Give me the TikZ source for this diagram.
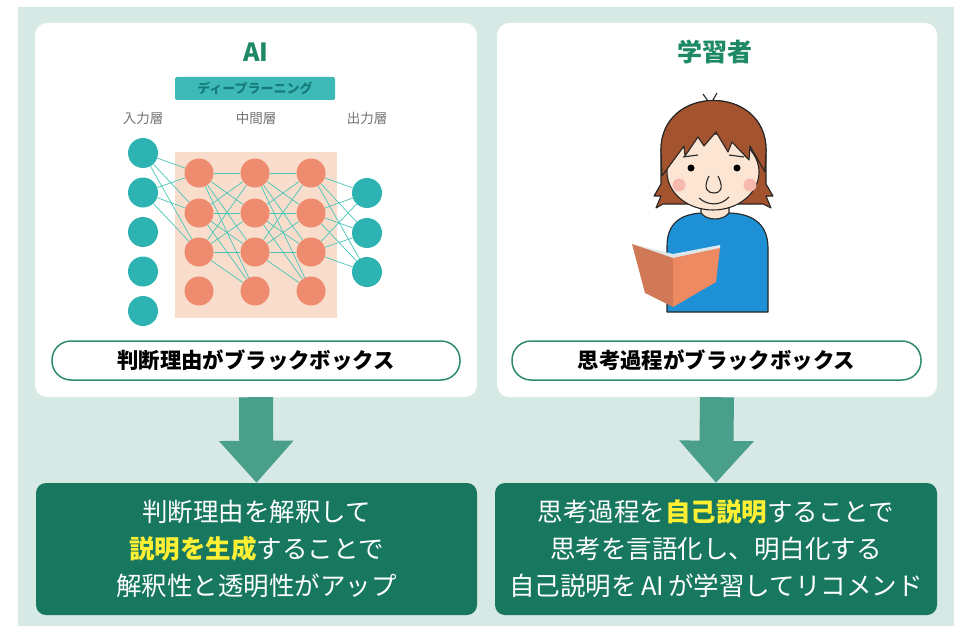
\documentclass[tikz,border=0pt]{standalone}
\usepackage{fontspec}
\setmainfont{Noto Sans CJK JP}
\usetikzlibrary{arrows.meta}

\definecolor{bgteal}{HTML}{D6E9E4}
\definecolor{deepgreen}{HTML}{17785F}
\definecolor{titlegreen}{HTML}{1E8A63}
\definecolor{arrowgreen}{HTML}{4A9F8A}
\definecolor{pillline}{HTML}{2F8C67}
\definecolor{nodeteal}{HTML}{2DB3B2}
\definecolor{nodesalmon}{HTML}{EF8B6F}
\definecolor{layerpink}{HTML}{F8DDCD}
\definecolor{bannerteal}{HTML}{3DBAB7}
\definecolor{bannertext}{HTML}{167C7A}
\definecolor{wireteal}{HTML}{46C6B7}
\definecolor{hilite}{HTML}{FFF034}
\definecolor{hairbrown}{HTML}{A4532F}
\definecolor{skin}{HTML}{FCE5D3}
\definecolor{shirtblue}{HTML}{1E90D5}
\definecolor{bookorange}{HTML}{EE8A62}
\definecolor{cheekpink}{HTML}{F7B9AE}
\definecolor{pagegray}{HTML}{DDE6E8}

\begin{document}
\begin{tikzpicture}[x=1pt, y=-1pt,
      panel/.style={fill=white, rounded corners=12pt, minimum height=374pt, inner sep=0pt},
      pill/.style={draw=pillline, line width=1.5pt, fill=white, rounded corners=19pt,
        minimum height=39pt, font=\fontsize{21.4}{21.4}\selectfont\bfseries},
      result/.style={fill=deepgreen, rounded corners=10pt, minimum height=132pt,
        text=white, align=center, font=\fontsize{25.5}{37}\selectfont},
      downarrow/.style={arrowgreen, line width=34pt, -{Triangle[width=72pt, length=42pt]}},
      heading/.style={text=titlegreen, font=\fontsize{25}{25}\selectfont\bfseries},
      layertag/.style={text=black!55, font=\fontsize{13.5}{13.5}\selectfont},
      banner/.style={fill=bannerteal, rounded corners=2pt, minimum width=160pt, minimum height=23pt,
        text=bannertext, font=\fontsize{13}{13}\selectfont\bfseries},
      innode/.style={circle, fill=nodeteal, minimum size=30pt, inner sep=0pt},
      hidnode/.style={circle, fill=nodesalmon, minimum size=29pt, inner sep=0pt},
      wire/.style={wireteal, line width=0.7pt},
      outline/.style={draw=black!85, line width=1.1pt, line join=round}
    ]

% Background
      \useasboundingbox (0,0) rectangle (959,626);
      \fill[bgteal] (18,7) rectangle (954,626);

% Panels
      \node[panel, minimum width=442pt] (lpanel) at (256,210) {};
      \node[panel, minimum width=440pt] (rpanel) at (717,210) {};
      \node[heading] (aititle) at (256,52) {AI};
      \node[heading] (lrntitle) at (715,52) {学習者};

% Deep learning network
      \node[banner] (dl) at (255,88.5) {ディープラーニング};
      \node[layertag] (inlbl) at (143,118) {入力層};
      \node[layertag] (midlbl) at (256,118) {中間層};
      \node[layertag] (outlbl) at (367,118) {出力層};
      \fill[layerpink] (175,152) rectangle (337,318);
      \foreach \i/\y in {1/153,2/192.5,3/232,4/271.5,5/311}
        \node[innode] (in\i) at (143,\y) {};
      \foreach \c/\x in {1/199,2/255,3/311}
        \foreach \r/\y in {1/173,2/213,3/252,4/291}
          \node[hidnode] (h\c\r) at (\x,\y) {};
      \foreach \i/\y in {1/193,2/233,3/272}
        \node[innode] (o\i) at (367,\y) {};
      \foreach \i in {1,2}
        \foreach \j in {1,2,3}
          \draw[wire] (in\i) -- (h1\j);
      \foreach \i in {1,2,3}
        \foreach \j in {1,...,4} {
          \draw[wire] (h1\i) -- (h2\j);
          \draw[wire] (h2\i) -- (h3\j);
        }
      \foreach \i in {1,2,3}
        \foreach \j in {1,2,3}
          \draw[wire] (h3\i) -- (o\j);

% Learner reading a book
      \filldraw[outline, fill=shirtblue] (667,312) -- (667,246)
        .. controls (667,224) and (680,214) .. (702,213) -- (730,213)
        .. controls (755,214) and (768,226) .. (768,248) -- (768,312) -- cycle;
      \filldraw[outline, fill=skin] (701,198) -- (701,213)
        .. controls (707,221) and (723,221) .. (729,213) -- (729,198);
      \filldraw[outline, fill=hairbrown] (663,204) -- (656,208) -- (661,196) -- (654,196)
        -- (661,184) -- (661,150) .. controls (661,84) and (766,84) .. (766,150)
        -- (766,184) -- (773,196) -- (766,196) -- (771,208) -- (763,204) -- cycle;
      \draw[outline] (708,101) -- (703,94);
      \draw[outline] (713,100) -- (717,93);
      \filldraw[outline, fill=skin] (713,172) ellipse [x radius=46pt, y radius=38pt];
      \filldraw[outline, fill=hairbrown] (662,176) -- (661,150)
        .. controls (661,84) and (766,84) .. (766,150) -- (765,172) -- (750,146)
        -- (749,160) -- (732,142) -- (728,152) -- (716,132) -- (704,146) -- (698,137)
        -- (685,156) -- (684,146) -- cycle;
      \fill[cheekpink] (679,185) circle (6.5pt);
      \fill[cheekpink] (750,185) circle (6.5pt);
      \draw[outline] (683,157) -- (698,155);
      \draw[outline] (729,155) -- (744,157);
      \fill (691,168) circle (3.5pt);
      \fill (737,168) circle (3.5pt);
      \draw[outline] (709,176) .. controls (702,190) and (709,193) .. (714,193)
        .. controls (719,193) and (725,190) .. (718,176);
      \draw[outline] (699,198) .. controls (708,206) and (721,206) .. (729,197);
      \fill[pagegray] (632,244) -- (673,254) -- (720,245) -- (720,249) -- (673,259) -- cycle;
      \fill[bookorange!88!black] (632,244) -- (673,258) -- (673,307) -- (645,293) -- cycle;
      \fill[bookorange] (673,258) -- (720,248) -- (716,282) -- (673,307) -- cycle;

% Black-box captions
      \node[pill, minimum width=408pt] (lpill) at (256,360.5) {判断理由がブラックボックス};
      \node[pill, minimum width=409pt] (rpill) at (716.5,360.5) {思考過程がブラックボックス};

% Outcomes
      \node[result, minimum width=441pt] (lbox) at (256.5,549)
        {判断理由を解釈して\\{\color{hilite}\bfseries 説明を生成}することで\\解釈性と透明性がアップ};
      \node[result, minimum width=442pt] (rbox) at (716,549)
        {思考過程を{\color{hilite}\bfseries 自己説明}することで\\思考を言語化し、明白化する\\自己説明を\,AI\,が学習してリコメンド};
      \draw[downarrow] (lpanel.south) -- (lbox.north);
      \draw[downarrow] (rpanel.south) -- (rbox.north);

\end{tikzpicture}
\end{document}
